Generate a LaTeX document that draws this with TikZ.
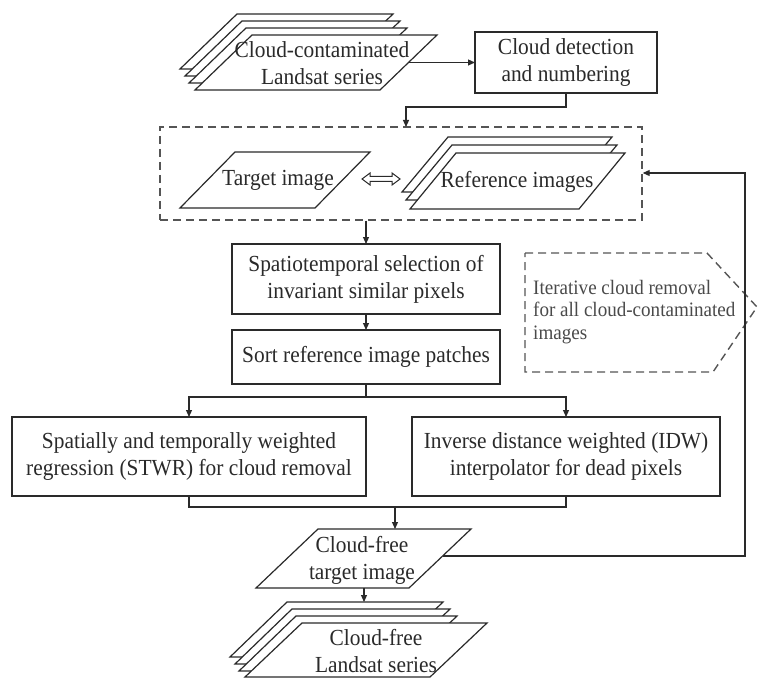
\documentclass[tikz,border=0pt]{standalone}
\usepackage{fontspec}
\setmainfont{Liberation Serif}[FakeStretch=0.93]
\usetikzlibrary{arrows.meta}
\definecolor{ink}{HTML}{2A2A2A}
\definecolor{dashgray}{HTML}{555555}
% parallelogram: top-left x, top-right x, top y, height, slant
\newcommand\pgm[5]{\draw[pshape] (#1,#3) -- (#2,#3) -- ({#2-#5},{#3+#4}) -- ({#1-#5},{#3+#4}) -- cycle;}
\begin{document}
\begin{tikzpicture}[x=1pt,y=-1pt,
  pshape/.style={draw=ink, line width=1.2pt, fill=white},
  box/.style={draw=ink, line width=1.2pt, fill=white, inner sep=0pt, outer sep=0pt,
    font=\fontsize{23}{27}\selectfont, text=ink, align=center},
  txt/.style={font=\fontsize{23}{27}\selectfont, text=ink, align=center, inner sep=0pt},
  conn/.style={draw=ink, line width=1.1pt},
  arr/.style={conn, -{Triangle[length=7pt,width=6pt]}},
  dashline/.style={draw=dashgray, line width=1.4pt, dash pattern=on 8pt off 5pt}
]
\fill[white] (0,0) rectangle (760,679);
\useasboundingbox (0,0) rectangle (760,679);

% input stack
\pgm{237}{393}{14}{55}{57}
\pgm{242}{400}{21}{55}{57}
\pgm{246}{407}{28}{55}{57}
\pgm{252}{437}{35}{55}{57}
\node[txt] (input) at (322,63) {Cloud-contaminated\\Landsat series};
\coordinate (inputR) at (409,62.5);

\node[box, minimum width=182pt, minimum height=61pt] (detect) at (566,62.5)
  {Cloud detection\\and numbering};
\draw[arr] (inputR) -- (detect.west);

% group of target and reference images
\node[dashline, minimum width=482pt, minimum height=93pt, inner sep=0pt] (group) at (401,173.5) {};
\coordinate (groupIn) at (406,127);
\draw[arr] (detect.south) -- ++(0,14) -| (groupIn);

\pgm{235}{370}{152}{56}{55}
\node[txt] (target) at (278,180) {Target image};

\pgm{448}{612}{137}{55}{46}
\pgm{452}{617}{145}{55}{46}
\pgm{456}{625}{153}{56}{46}
\node[txt] (refs) at (517,182) {Reference images};

% hollow two-way arrow between target and references
\coordinate (pairL) at (362,179);
\coordinate (pairR) at (400,179);
\draw[ink, line width=1pt, fill=white, line join=miter]
  (pairL) -- ++(8,-6) -- ++(0,3.5) -- ++(22,0) -- ++(0,-3.5) -- (pairR)
  -- ++(-8,6) -- ++(0,-3.5) -- ++(-22,0) -- ++(0,3.5) -- cycle;

% processing steps
\node[box, minimum width=268pt, minimum height=70pt] (select) at (366,279)
  {Spatiotemporal selection of\\invariant similar pixels};
\draw[arr] (group.south -| select.north) -- (select.north);

\node[box, minimum width=268pt, minimum height=54pt] (sort) at (366,357)
  {Sort reference image patches};
\draw[arr] (select.south) -- (sort.north);

% iteration note
\draw[dashline] (525,253) -- (707,253) -- (757,307) -- (713,372) -- (525,372) -- cycle;
\node[anchor=west, align=left, inner sep=0pt, text=ink!85,
  font=\fontsize{20.5}{22.5}\selectfont] (note) at (533,312)
  {Iterative cloud removal\\for all cloud-contaminated\\images};

\node[box, minimum width=354pt, minimum height=79pt] (stwr) at (189,456.5)
  {Spatially and temporally weighted\\regression (STWR) for cloud removal};
\node[box, minimum width=308pt, minimum height=79pt] (idw) at (566,456.5)
  {Inverse distance weighted (IDW)\\interpolator for dead pixels};

\draw[conn] (sort.south) -- ++(0,13) coordinate (split);
\draw[arr] (split) -| (stwr.north);
\draw[arr] (split) -| (idw.north);

\draw[conn] (stwr.south) -- ++(0,11) coordinate (mergeL) -| (idw.south);
\coordinate (merge) at (395,507.5);

% cloud-free target image
\pgm{318}{471}{529}{59}{62}
\node[txt] (result) at (362,560) {Cloud-free\\target image};
\coordinate (resultTop) at (395,529);
\draw[arr] (merge) -- (resultTop);

\coordinate (resultR) at (443,556);
\coordinate (loop) at (745,556);
\coordinate (groupR) at (group.east |- 0,173);
\draw[arr] (resultR) -- (loop) |- (groupR);

% output stack
\pgm{287}{443}{602}{55}{57}
\pgm{292}{450}{609}{55}{57}
\pgm{296}{457}{616}{55}{57}
\pgm{302}{487}{623}{54}{57}
\node[txt] (output) at (376,651) {Cloud-free\\Landsat series};
\coordinate (resultB) at (364,588);
\coordinate (outputT) at (364,602);
\draw[arr] (resultB) -- (outputT);
\end{tikzpicture}
\end{document}
